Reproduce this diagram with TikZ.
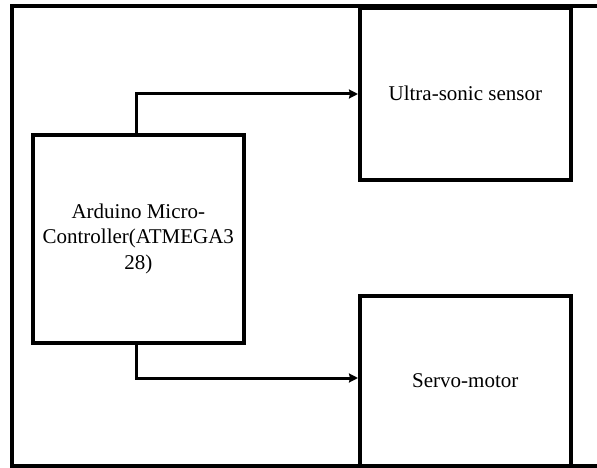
\documentclass[tikz,border=0pt]{standalone}
\usepackage{fontspec}
\setmainfont{Liberation Serif}
\usetikzlibrary{arrows.meta}
\begin{document}
\begin{tikzpicture}[x=1pt,y=-1pt,
  blk/.style={draw,line width=3.6pt,inner sep=0pt,anchor=north west,align=center,font=\fontsize{21}{25.5}\selectfont},
  conn/.style={line width=3pt,-{Stealth[length=9pt,width=9pt,inset=1pt]}},
  frame/.style={line width=3.6pt,line cap=rect}]
\useasboundingbox (0,0) rectangle (597,468);
\fill[white] (0,0) rectangle (597,468);
\draw[frame] (597,6) -- (12,6) -- (12,466) -- (597,466);
\node[blk,minimum width=211pt,minimum height=208pt] (ard) at (31,133) {Arduino Micro-\\Controller(ATMEGA3\\28)};
\node[blk,minimum width=211pt,minimum height=172pt] (us) at (358,6) {Ultra-sonic sensor};
\node[blk,minimum width=211pt,minimum height=170pt] (sv) at (358,294) {Servo-motor};
\draw[conn] (136,133) |- (us.west |- 0,94);
\draw[conn] (136,341) |- (sv.west |- 0,378);
\end{tikzpicture}
\end{document}
